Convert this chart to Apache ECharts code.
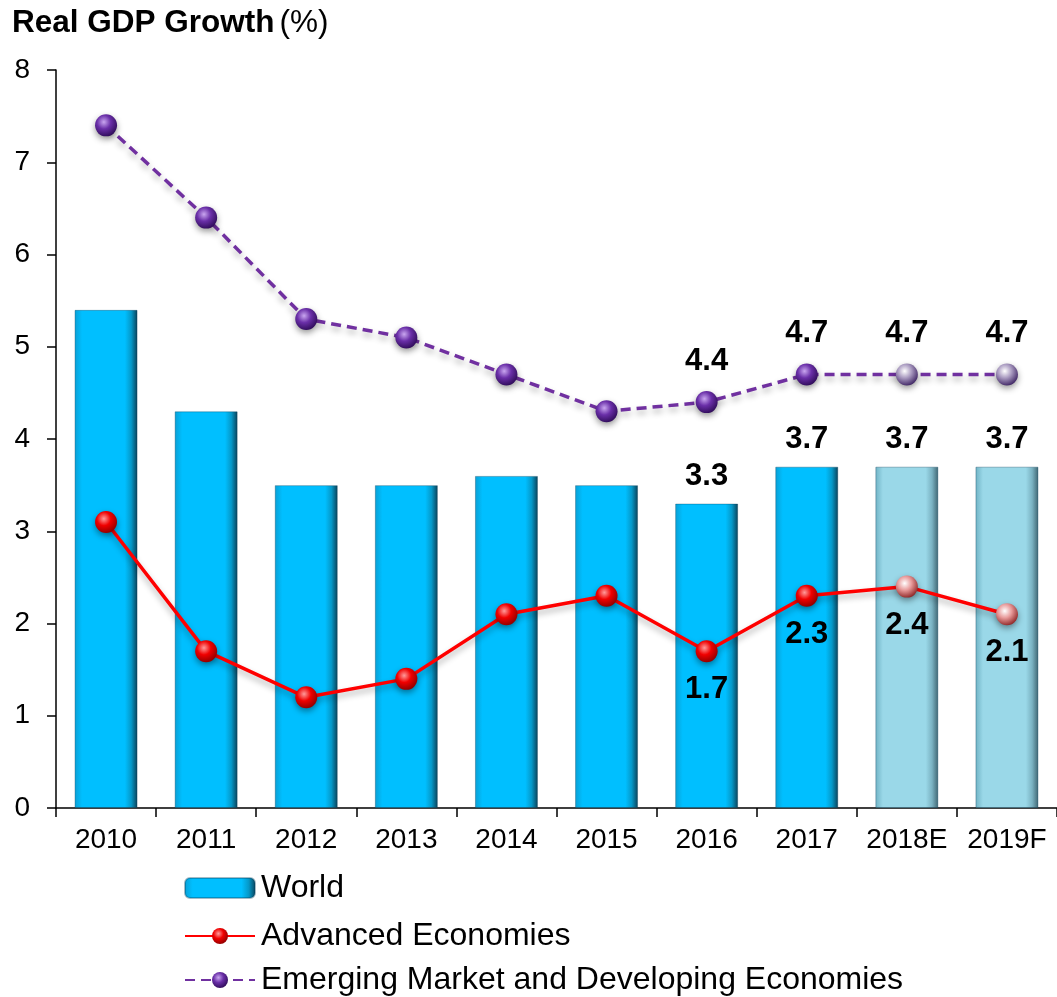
<!DOCTYPE html>
<html><head><meta charset="utf-8">
<script src="https://cdn.jsdelivr.net/npm/echarts@6/dist/echarts.min.js"></script>
<style>html,body{margin:0;padding:0;background:#fff}#c{width:1057px;height:997px}</style>
</head><body><div id="c"></div>
<script>
const categories = ['2010','2011','2012','2013','2014','2015','2016','2017','2018E','2019F'];
const world = [5.4, 4.3, 3.5, 3.5, 3.6, 3.5, 3.3, 3.7, 3.7, 3.7];
const advanced = [3.1, 1.7, 1.2, 1.4, 2.1, 2.3, 1.7, 2.3, 2.4, 2.1];
const emerging = [7.4, 6.4, 5.3, 5.1, 4.7, 4.3, 4.4, 4.7, 4.7, 4.7];
const seriesNames = ['World','Advanced Economies','Emerging Market and Developing Economies'];
const yTicks = [0,1,2,3,4,5,6,7,8];
const labelFrom = 6;      // labels shown from 2016 on
const forecastFrom = 8;   // estimate/forecast columns

const font = 'Liberation Sans, Arial, sans-serif';
function hGrad(stops){ return new echarts.graphic.LinearGradient(0,0,1,0, stops.map((c)=>({offset:c[0],color:c[1]}))); }
const barMain = hGrad([[0,'#0a9fd4'],[0.12,'#00bfff'],[0.8,'#00bfff'],[0.9,'#0598c8'],[1,'#0b3f55']]);
const barFc = hGrad([[0,'#6fb2c4'],[0.12,'#9ad8e8'],[0.8,'#9ad8e8'],[0.9,'#7ab2c2'],[1,'#3e6470']]);
function sphere(c1,c2,c3){ return new echarts.graphic.RadialGradient(0.4,0.35,0.7,[{offset:0,color:c1},{offset:0.45,color:c2},{offset:1,color:c3}]); }
const redBall = sphere('#ff9a9a','#f00000','#8a0000');
const redBallFc = sphere('#ffffff','#e89a9a','#8a2020');
const purBall = sphere('#c9a6f0','#6a2fa8','#2c0a55');
const purBallFc = sphere('#ffffff','#a99ac0','#3a2060');

const lblStyle = {fontFamily: font, fontWeight:'bold', fontSize:31, color:'#000'};

const worldData = world.map((v,i)=>({
  value:v,
  itemStyle:{color: i>=forecastFrom ? barFc : barMain},
  label:{show: i>=labelFrom, position:'top', distance:12, ...lblStyle}
}));
const advData = advanced.map((v,i)=>({
  value:v,
  itemStyle:{color: i>=forecastFrom ? redBallFc : redBall},
  label:{show: i>=labelFrom, position:'bottom', distance:12, ...lblStyle}
}));
const emData = emerging.map((v,i)=>({
  value:v,
  itemStyle:{color: i>=forecastFrom ? purBallFc : purBall},
  label:{show: i>=labelFrom, position:'top', distance:14, ...lblStyle}
}));

const legendTops = [872, 920, 964];
const legends = seriesNames.map((n,i)=>({
  orient:'horizontal', left:184, top:legendTops[i], itemWidth:70, itemHeight:20, padding:0,
  textStyle:{fontFamily:font, fontSize:32, color:'#000', padding:[0,0,0,1]},
  data:[n], selectedMode:false
}));

const chart = echarts.init(document.getElementById('c'), null, {renderer:'canvas'});
chart.setOption({
  animation:false,
  backgroundColor:'#fff',
  title:{
    text:'{b|Real GDP Growth} {n|(%)}', left:7, top:2,
    textStyle:{fontWeight:'normal', rich:{b:{fontFamily:font,fontWeight:'bold',fontSize:31.5,color:'#000'},n:{fontFamily:font,fontWeight:'normal',fontSize:31.5,color:'#000'}}}
  },
  grid:{left:56, right:0, top:70, bottom:189},
  legend:legends,
  xAxis:{
    type:'category', data:categories, boundaryGap:true,
    axisLine:{lineStyle:{color:'#000', width:1.5}},
    axisTick:{show:true, alignWithLabel:false, length:9, lineStyle:{color:'#000', width:1.5}},
    axisLabel:{fontFamily:font, fontSize:28, color:'#000', margin:18, interval:0}
  },
  yAxis:{
    type:'value', min:yTicks[0], max:yTicks[yTicks.length-1], interval:1,
    axisLine:{show:true, lineStyle:{color:'#000', width:1.5}},
    axisTick:{show:true, length:9, lineStyle:{color:'#000', width:1.5}},
    splitLine:{show:false},
    axisLabel:{fontFamily:font, fontSize:28, color:'#000', margin:26}
  },
  series:[
    {name:seriesNames[0], type:'bar', data:worldData, barWidth:63,
     itemStyle:{color:barMain, borderColor:'rgba(0,60,90,0.35)', borderWidth:1}},
    {name:seriesNames[1], type:'line', data:advData, symbol:'circle', symbolSize:22,
     lineStyle:{color:'#ff0000', width:3.5, shadowColor:'rgba(0,0,0,0.3)', shadowBlur:6, shadowOffsetY:4},
     itemStyle:{color:redBall, shadowColor:'rgba(0,0,0,0.4)', shadowBlur:6, shadowOffsetY:3}, z:5},
    {name:seriesNames[2], type:'line', data:emData, symbol:'circle', symbolSize:22,
     lineStyle:{color:'#7030a0', width:3.5, type:[10,6], shadowColor:'rgba(0,0,0,0.3)', shadowBlur:6, shadowOffsetY:4},
     itemStyle:{color:purBall, shadowColor:'rgba(0,0,0,0.4)', shadowBlur:6, shadowOffsetY:3}, z:5}
  ]
});
</script></body></html>
